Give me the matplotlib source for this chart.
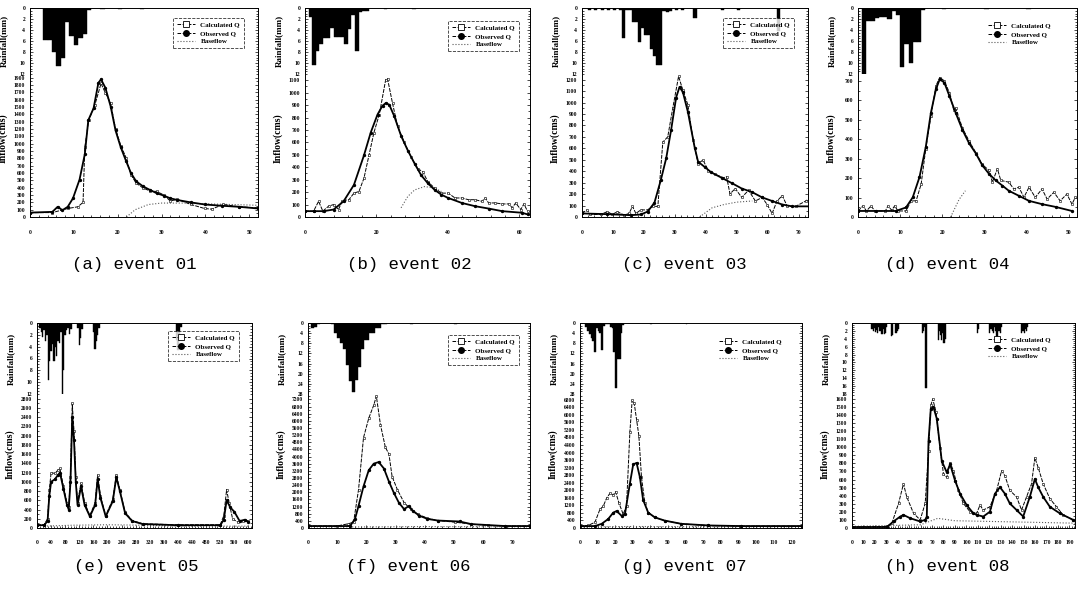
import matplotlib.pyplot as plt
from matplotlib.ticker import MultipleLocator, AutoMinorLocator
from matplotlib.lines import Line2D

# ---- event 01 ----
ev1_rain_t = [3, 4, 5, 6, 7, 8, 9, 10, 11, 12, 13, 16, 20, 25]
ev1_rain = [5.9, 5.9, 8.0, 10.6, 9.0, 2.6, 5.0, 6.8, 5.5, 4.7, 0.3, 0.2, 0.2, 0.2]
ev1_calc_t = [0, 5.1, 8.6, 10.9, 12.1, 12.5, 13.4, 14.8, 16.2, 17.2, 18.4, 19.5, 20.7, 21.9, 23.0,
              24.2, 25.8, 27.3, 28.9, 30.5, 32.0, 33.6, 36.7, 39.8, 41.4, 44.1, 47.7, 52]
ev1_calc = [60, 60, 116, 139, 199, 950, 1321, 1529, 1821, 1691, 1552, 1205, 973, 811, 579,
            463, 394, 357, 348, 301, 218, 241, 171, 116, 107, 171, 139, 125]
ev1_obs_t = [0, 5.1, 6.3, 7.4, 8.6, 9.8, 11.3, 12.5, 13.3, 14.5, 15.6, 16.2, 17.2, 18.4, 19.5, 20.7,
             21.9, 23.0, 24.2, 25.8, 27.3, 28.9, 30.5, 32.0, 33.6, 36.7, 39.8, 43.8, 47.7, 52]
ev1_obs = [60, 70, 139, 93, 139, 255, 510, 857, 1321, 1483, 1830, 1877, 1761, 1506, 1182, 950,
           765, 602, 487, 417, 371, 324, 292, 255, 232, 199, 171, 153, 139, 116]
ev1_base_t = [22, 24, 27, 30, 35, 40, 52]
ev1_base = [0, 100, 170, 190, 190, 180, 160]

# ---- event 02 ----
ev2_rain_t = [1, 2, 3, 4, 5, 6, 7, 8, 9, 10, 11, 12, 13, 14, 15, 16, 17, 22, 30]
ev2_rain = [1.6, 10.4, 7.8, 6.5, 5.5, 5.5, 3.6, 5.2, 5.2, 5.2, 6.5, 3.9, 1.3, 7.8, 0.8, 0.5, 0.5, 0.2, 0.2]
ev2_calc_t = [0, 2.4, 3.8, 5.0, 6.6, 8.0, 9.4, 10.4, 12.3, 13.7, 15.1, 16.5, 17.9, 19.3, 20.8, 22.6,
              23.1, 24.5, 25.9, 27.8, 29.7, 31.6, 33.0, 34.4, 36.3, 38.2, 40.1, 42.0, 43.9, 45.8,
              47.6, 49.5, 50.5, 51.4, 53.3, 55.2, 57.1, 58.0, 59.0, 60.4, 61.3, 62.3]
ev2_calc = [47, 47, 126, 47, 87, 100, 60, 132, 139, 192, 205, 311, 495, 679, 824, 1105,
            1113, 916, 732, 600, 482, 389, 363, 284, 232, 192, 192, 153, 153, 139,
            139, 126, 153, 113, 113, 105, 105, 74, 113, 60, 105, 47]
ev2_obs_t = [0, 2.4, 5.2, 8.0, 10.8, 13.7, 16.5, 18.4, 20.3, 21.7, 22.6, 23.6, 25.0, 26.9, 28.8,
             30.7, 32.5, 34.4, 36.3, 38.2, 40.1, 43.9, 47.6, 51.4, 55.2, 60.8, 62.3]
ev2_obs = [47, 47, 47, 60, 126, 258, 495, 679, 824, 895, 916, 903, 810, 653, 534,
           429, 337, 271, 218, 179, 153, 113, 87, 68, 47, 34, 21]
ev2_base_t = [26.9, 28.8, 30.7, 33.5, 36.3, 38.2]
ev2_base = [74, 166, 218, 245, 232, 205]

# ---- event 03 ----
ev3_rain_t = [2, 4, 6, 8, 10, 12, 13, 14, 15, 16, 17, 18, 19, 20, 21, 22, 23, 24, 25,
              26, 27, 28, 30, 32, 36, 45, 50, 63]
ev3_rain = [0.3, 0.3, 0.3, 0.4, 0.4, 0.4, 5.5, 0.3, 0.3, 2.6, 2.6, 6.2, 3.6, 4.9, 4.9, 7.5, 8.8, 10.4, 10.4,
            0.5, 0.8, 0.5, 0.3, 0.3, 1.9, 0.3, 0.3, 4.2]
ev3_calc_t = [0, 1.6, 2.7, 6.0, 8.2, 9.8, 11.4, 13.6, 15.2, 16.3, 17.4, 19.0, 21.2, 22.8, 24.5, 26.1,
              27.7, 29.3, 31.2, 32.6, 34.2, 35.9, 37.5, 39.1, 40.8, 42.9, 45.7, 46.7, 47.8, 49.5,
              51.6, 53.8, 56.0, 58.2, 59.8, 61.4, 63.0, 64.7, 66.3, 69.0, 72.3, 73.9]
ev3_calc = [31, 62, 22, 22, 47, 22, 47, 16, 31, 93, 31, 62, 62, 93, 93, 654,
            701, 950, 1230, 1106, 981, 670, 467, 498, 405, 374, 343, 352, 202, 249,
            171, 234, 140, 171, 109, 31, 140, 187, 93, 93, 140, 171]
ev3_obs_t = [0, 8.0, 15.8, 19.0, 21.2, 23.4, 25.5, 27.2, 28.8, 30.4, 31.5, 32.6, 34.2, 36.4, 37.5,
             39.7, 41.8, 45.1, 48.4, 51.6, 54.9, 58.2, 61.4, 64.7, 67.9, 73.4]
ev3_obs = [31, 25, 16, 22, 47, 125, 327, 514, 763, 1044, 1137, 1090, 919, 607, 483,
           436, 389, 343, 296, 249, 218, 171, 140, 109, 93, 93]
ev3_base_t = [38, 42, 46, 50, 55]
ev3_base = [0, 80, 110, 130, 140]

# ---- event 04 ----
ev4_rain_t = [1, 2, 3, 4, 5, 6, 7, 8, 9, 10, 11, 12, 13, 14, 15, 20, 30, 40]
ev4_rain = [12.0, 2.3, 2.3, 1.8, 1.6, 1.6, 2.0, 0.5, 1.2, 10.7, 6.5, 10.0, 6.1, 6.1, 0.3, 0.1, 0.1, 0.1]
ev4_calc_t = [0, 1.2, 2.0, 3.1, 4.0, 6.5, 7.1, 8.0, 8.7, 9.5, 11.4, 12.6, 13.8, 15.0, 16.1, 17.3,
              18.5, 19.4, 20.5, 21.7, 22.7, 23.2, 24.8, 26.4, 28.0, 29.5, 31.1, 31.9, 33.1, 33.9,
              35.8, 37.0, 38.2, 39.4, 40.6, 42.1, 43.7, 44.9, 46.5, 48.0, 49.6, 50.8, 51.6]
ev4_calc = [31, 57, 31, 57, 31, 31, 57, 35, 57, 31, 31, 83, 83, 170, 352, 517,
            674, 717, 700, 639, 552, 560, 457, 390, 330, 270, 240, 179, 248, 188,
            179, 144, 153, 101, 153, 101, 144, 92, 127, 83, 118, 66, 101]
ev4_obs_t = [0, 4.3, 9.0, 11.4, 13.0, 14.6, 16.1, 17.3, 18.5, 19.4, 20.5, 21.7, 23.2, 24.8, 26.4,
             28.0, 29.5, 31.1, 32.7, 34.3, 35.8, 38.2, 40.6, 43.7, 46.9, 50.8]
ev4_obs = [31, 31, 31, 49, 101, 205, 361, 535, 656, 708, 691, 622, 535, 448, 378,
           326, 266, 222, 188, 161, 135, 109, 83, 66, 52, 31]
ev4_base_t = [22, 24, 25.5]
ev4_base = [0, 90, 135]

# ---- event 05 ----
ev5_rain_t = [6, 10, 14, 18, 22, 26, 30, 34, 38, 42, 46, 50, 54, 58, 62, 66, 70, 74, 78, 82, 86, 90, 94,
              114, 118, 122, 126, 158, 162, 166, 170, 174, 394, 398, 402, 406]
ev5_rain = [0.8, 1.5, 2.4, 1.2, 3.0, 2.0, 9.7, 6.5, 4.7, 3.5, 6.4, 4.0, 5.5, 3.0, 3.4, 1.5, 12.0, 8.0,
            2.0, 1.2, 0.8, 1.8, 1.0, 0.8, 3.8, 2.5, 1.0, 1.5, 4.4, 3.0, 2.1, 0.8, 2.8, 4.5, 2.0, 0.6]
ev5_calc_t = [0, 20, 30, 35, 40, 50, 60, 65, 75, 85, 90, 95, 100, 105, 110, 115, 125, 135, 150, 165,
              172, 180, 195, 215, 225, 235, 250, 270, 300, 400, 520, 530, 538, 545, 555, 570, 585, 600]
ev5_calc = [70, 70, 200, 830, 1197, 1183, 1254, 1289, 901, 549, 444, 1113, 2697, 2099, 1113, 549, 972,
            549, 268, 549, 1148, 690, 268, 620, 1148, 831, 338, 162, 92, 70, 70, 268, 831, 549, 197,
            127, 162, 141]
ev5_obs_t = [0, 20, 30, 35, 40, 50, 60, 65, 75, 85, 90, 95, 100, 105, 110, 115, 125, 135, 150, 165,
             172, 180, 195, 215, 225, 235, 250, 270, 300, 400, 520, 530, 538, 548, 560, 575, 590, 600]
ev5_obs = [60, 60, 150, 700, 1000, 1050, 1150, 1200, 850, 500, 400, 1000, 2400, 1900, 1000, 500, 900,
           500, 250, 500, 1050, 650, 250, 580, 1100, 800, 320, 150, 85, 60, 60, 180, 600, 450, 350,
           150, 180, 130]
ev5_base_t = [20, 100, 200, 300, 400, 600]
ev5_base = [40, 60, 70, 60, 40, 40]

# ---- event 06 ----
ev6_rain_t = [1, 2, 3, 8, 9, 10, 11, 12, 13, 14, 15, 16, 17, 18, 19, 20, 21, 22, 23, 24, 25, 26, 35, 50]
ev6_rain = [1.8, 1.5, 0.5, 0.5, 4.0, 6.0, 8.0, 10.3, 16.7, 23.0, 27.3, 22.3, 17.4, 10.3, 6.8, 6.8,
            4.0, 4.0, 1.8, 1.8, 0.5, 0.3, 0.3, 0.3]
ev6_calc_t = [0, 9.8, 13.8, 15.6, 17.3, 19.0, 20.8, 22.5, 23.4, 24.8, 26.5, 27.7, 28.8, 30.6, 32.9,
              35.2, 37.5, 40.9, 44.4, 50.2, 55.9, 61.7, 67.5, 76]
ev6_calc = [109, 109, 236, 327, 2145, 5055, 6145, 6873, 7382, 5782, 4509, 4145, 2873, 2145, 1418,
            1055, 782, 545, 418, 327, 218, 145, 109, 109]
ev6_obs_t = [0, 14.4, 16.1, 17.3, 19.0, 20.8, 22.5, 24.2, 26.0, 27.7, 29.4, 31.1, 32.9, 34.6, 35.8,
             38.1, 40.9, 44.4, 51.9, 55.9, 67.5, 76]
ev6_obs = [109, 109, 509, 1236, 2327, 3236, 3600, 3691, 3327, 2600, 1964, 1418, 1055, 1236, 964,
           691, 509, 418, 364, 218, 109, 109]
ev6_base_t = [0, 20, 40, 76]
ev6_base = [60, 60, 80, 60]

# ---- event 07 ----
ev7_rain_t = [3, 4, 5, 6, 7, 8, 9, 10, 11, 12, 13, 14, 15, 16, 17, 18, 19, 20, 21, 22, 23, 24, 40, 60]
ev7_rain = [1.5, 3.0, 4.5, 6.0, 7.0, 11.3, 2.0, 3.3, 4.0, 10.6, 1.0, 0.3, 0.3, 0.3, 1.5, 2.0, 11.3,
            25.8, 14.2, 14.2, 4.0, 0.8, 0.2, 0.2]
ev7_calc_t = [0, 4.7, 8.5, 11.3, 13.2, 15.1, 17.0, 18.9, 20.2, 22.1, 24.5, 26.4, 28.3, 29.6, 30.8,
              32.1, 33.4, 34.9, 36.8, 38.7, 42.5, 48.1, 57.5, 72.6, 91.5, 126]
ev7_calc = [102, 136, 306, 986, 1156, 1582, 1837, 1752, 1922, 1327, 731, 1156, 5068, 6769, 6599,
            5748, 4898, 2687, 1327, 816, 561, 391, 221, 136, 102, 102]
ev7_obs_t = [0, 8.5, 12.3, 16.0, 18.9, 20.8, 23.6, 25.5, 28.3, 30.2, 32.1, 34.0, 35.8, 38.7, 42.5,
             48.1, 57.5, 72.6, 91.5, 126]
ev7_obs = [102, 102, 221, 476, 816, 901, 646, 731, 2347, 3367, 3452, 2687, 1497, 816, 561,
           391, 221, 136, 102, 102]
ev7_base_t = [0, 30, 60, 126]
ev7_base = [60, 80, 70, 60]

# ---- event 08 ----
ev8_rain_t = [17, 18, 19, 20, 21, 22, 23, 24, 25, 26, 27, 28, 29, 30, 34, 35, 38, 39, 40, 61, 62, 63,
              64, 65, 75, 76, 77, 78, 79, 80, 81, 109, 110, 120, 121, 122, 123, 124, 125, 126, 127,
              128, 129, 130, 148, 149, 150, 151, 152, 153]
ev8_rain = [1.5, 2.0, 1.2, 2.2, 1.8, 2.5, 1.0, 2.0, 2.9, 2.9, 1.5, 2.9, 2.5, 1.0, 3.4, 3.0, 2.5, 2.0,
            1.5, 2.5, 2.0, 1.0, 16.6, 16.6, 4.2, 2.0, 3.0, 4.2, 2.5, 5.0, 4.0, 2.5, 1.5, 2.5, 1.5,
            2.0, 2.5, 1.0, 2.0, 3.7, 3.7, 2.0, 2.5, 1.0, 2.5, 2.0, 2.5, 1.5, 2.0, 1.0]
ev8_calc_t = [0, 30.5, 34.9, 40.7, 45.0, 47.9, 53.8, 59.6, 64.0, 66.9, 68.9, 70.6, 73.5, 77.0, 80.0,
              82.9, 85.8, 88.7, 93.0, 97.4, 103.2, 109.0, 111.9, 114.8, 120.6, 126.5, 130.8, 133.7,
              138.0, 143.9, 148.3, 152.6, 157.0, 159.9, 162.8, 167.2, 173.0, 178.8, 184.6, 193.3]
ev8_calc = [12, 20, 61, 304, 547, 385, 182, 101, 304, 951, 1518, 1599, 1437, 992, 668,
            627, 810, 709, 466, 304, 202, 182, 283, 223, 263, 466, 709, 648,
            466, 385, 223, 385, 547, 870, 749, 547, 364, 263, 162, 101]
ev8_obs_t = [0, 30.5, 36.3, 42.2, 45.0, 50.9, 59.6, 64.0, 65.4, 66.9, 68.9, 71.2, 74.1, 78.5, 82.9,
             85.8, 90.1, 94.5, 100.3, 106.1, 109.0, 114.8, 120.6, 125.0, 129.4, 133.7, 138.0, 143.9,
             149.7, 155.5, 159.9, 162.8, 167.2, 173.0, 181.7, 193.3]
ev8_obs = [12, 12, 81, 142, 162, 121, 81, 101, 142, 1073, 1478, 1498, 1356, 830, 688,
           789, 587, 425, 283, 182, 162, 142, 202, 425, 506, 425, 304, 223,
           142, 385, 607, 506, 385, 263, 182, 101]
ev8_base_t = [0, 60, 75, 90, 195]
ev8_base = [20, 40, 120, 90, 60]

captions = ['(a) event 01', '(b) event 02', '(c) event 03', '(d) event 04',
            '(e) event 05', '(f) event 06', '(g) event 07', '(h) event 08']

plt.rcParams['font.family'] = ['Liberation Serif', 'DejaVu Serif']
plt.rcParams['font.weight'] = 'bold'

W, H = 1085, 592
fig = plt.figure(figsize=(W / 100, H / 100), dpi=100)


def px_rect(left, right, top, bottom):
    return [left / W, 1 - bottom / H, (right - left) / W, (bottom - top) / H]


def style_axis(ax):
    ax.tick_params(which='both', direction='in', right=True, labelsize=4, width=0.5)
    ax.tick_params(which='major', length=2.5)
    ax.tick_params(which='minor', length=1.2)
    for s in ax.spines.values():
        s.set_linewidth(0.7)


def draw_event(frame, split, rain, flows, rain_max, rain_step, q_max, q_step,
               x_max, x_step, leg_pos, leg_box, caption, cap_pos):
    left, right, top, bottom = frame
    rain_t, rain_v = rain
    (calc_t, calc_q), (obs_t, obs_q), (base_t, base_q) = flows

    ax_r = fig.add_axes(px_rect(left, right, top, split))
    ax_q = fig.add_axes(px_rect(left, right, split, bottom), sharex=ax_r)

    # rainfall hyetograph, hanging from the top
    ax_r.bar(rain_t, rain_v, width=(1.0 if x_max < 300 else 4.0), align='edge',
             color='black', edgecolor='black', linewidth=0.3)
    ax_r.set_ylim(rain_max, 0)
    ax_r.yaxis.set_major_locator(MultipleLocator(rain_step))
    ax_r.yaxis.set_minor_locator(AutoMinorLocator(4))
    ax_r.spines['bottom'].set_visible(False)
    ax_r.tick_params(axis='x', which='both', bottom=False, labelbottom=False)
    style_axis(ax_r)
    ax_r.set_ylabel('Rainfall(mm)', fontsize=6.5, fontweight='bold')
    ax_r.yaxis.set_label_coords(-22 / (right - left), 0.5)

    # hydrographs
    ax_q.plot(base_t, base_q, ls=':', color='0.35', lw=0.8)
    ax_q.plot(calc_t, calc_q, ls=(0, (4, 1.2)), color='black', lw=0.7,
              marker='s', ms=1.8, mfc='white', mew=0.4)
    ax_q.plot(obs_t, obs_q, ls='-', color='black', lw=1.3,
              marker='o', ms=1.4)
    ax_q.set_ylim(0, q_max)
    ax_q.set_xlim(0, x_max)
    ax_q.yaxis.set_major_locator(MultipleLocator(q_step))
    ax_q.yaxis.set_minor_locator(AutoMinorLocator(2))
    ax_q.xaxis.set_major_locator(MultipleLocator(x_step))
    ax_q.xaxis.set_minor_locator(AutoMinorLocator(5))
    ax_q.spines['top'].set_visible(False)
    style_axis(ax_q)
    ax_q.tick_params(axis='x', which='major', pad=9)
    ax_q.set_ylabel('Inflow(cms)', fontsize=7, fontweight='bold')
    ax_q.yaxis.set_label_coords(-22 / (right - left), 0.55)

    handles = [
        Line2D([], [], ls='--', color='black', lw=0.7, marker='s', ms=4, mfc='white', mew=0.6),
        Line2D([], [], ls='--', color='black', lw=0.7, marker='o', ms=4),
        Line2D([], [], ls=':', color='0.35', lw=0.8),
    ]
    leg = fig.legend(handles, ['Calculated Q', 'Observed Q', 'Baseflow'],
                     loc='upper right', bbox_to_anchor=(leg_pos[0] / W, 1 - leg_pos[1] / H),
                     fontsize=5, frameon=leg_box, fancybox=False, handlelength=2.6,
                     borderpad=0.5, labelspacing=0.35, handletextpad=0.8)
    if leg_box:
        frm = leg.get_frame()
        frm.set_edgecolor('black')
        frm.set_linestyle('--')
        frm.set_linewidth(0.6)

    fig.text(cap_pos[0] / W, 1 - cap_pos[1] / H, caption, ha='center', va='center',
             fontsize=12.5, family='Liberation Mono', fontweight='normal')


top_row = (8, 74, 217)
bot_row = (323, 394, 528)

panels = [
    dict(frame=(30, 258, 8, 217), split=74, rain=(ev1_rain_t, ev1_rain),
         flows=((ev1_calc_t, ev1_calc), (ev1_obs_t, ev1_obs), (ev1_base_t, ev1_base)),
         rain_max=12, rain_step=2, q_max=1950, q_step=100, x_max=52, x_step=10,
         leg_pos=(247, 15), leg_box=True, cap_pos=(134, 265)),
    dict(frame=(305, 530, 8, 217), split=74, rain=(ev2_rain_t, ev2_rain),
         flows=((ev2_calc_t, ev2_calc), (ev2_obs_t, ev2_obs), (ev2_base_t, ev2_base)),
         rain_max=12, rain_step=2, q_max=1150, q_step=100, x_max=63, x_step=20,
         leg_pos=(522, 18), leg_box=True, cap_pos=(409, 265)),
    dict(frame=(582, 808, 8, 217), split=74, rain=(ev3_rain_t, ev3_rain),
         flows=((ev3_calc_t, ev3_calc), (ev3_obs_t, ev3_obs), (ev3_base_t, ev3_base)),
         rain_max=12, rain_step=2, q_max=1250, q_step=100, x_max=73, x_step=10,
         leg_pos=(797, 15), leg_box=True, cap_pos=(684, 265)),
    dict(frame=(858, 1077, 8, 217), split=74, rain=(ev4_rain_t, ev4_rain),
         flows=((ev4_calc_t, ev4_calc), (ev4_obs_t, ev4_obs), (ev4_base_t, ev4_base)),
         rain_max=12, rain_step=2, q_max=735, q_step=100, x_max=52, x_step=10,
         leg_pos=(1058, 16), leg_box=False, cap_pos=(947, 265)),
    dict(frame=(37, 252, 323, 528), split=394, rain=(ev5_rain_t, ev5_rain),
         flows=((ev5_calc_t, ev5_calc), (ev5_obs_t, ev5_obs), (ev5_base_t, ev5_base)),
         rain_max=12, rain_step=2, q_max=2900, q_step=200, x_max=610, x_step=40,
         leg_pos=(242, 328), leg_box=True, cap_pos=(136, 566)),
    dict(frame=(308, 530, 323, 528), split=394, rain=(ev6_rain_t, ev6_rain),
         flows=((ev6_calc_t, ev6_calc), (ev6_obs_t, ev6_obs), (ev6_base_t, ev6_base)),
         rain_max=28, rain_step=4, q_max=7500, q_step=400, x_max=76, x_step=10,
         leg_pos=(522, 332), leg_box=True, cap_pos=(408, 566)),
    dict(frame=(580, 802, 323, 528), split=394, rain=(ev7_rain_t, ev7_rain),
         flows=((ev7_calc_t, ev7_calc), (ev7_obs_t, ev7_obs), (ev7_base_t, ev7_base)),
         rain_max=28, rain_step=4, q_max=7100, q_step=400, x_max=126, x_step=10,
         leg_pos=(789, 332), leg_box=False, cap_pos=(684, 566)),
    dict(frame=(852, 1075, 323, 528), split=394, rain=(ev8_rain_t, ev8_rain),
         flows=((ev8_calc_t, ev8_calc), (ev8_obs_t, ev8_obs), (ev8_base_t, ev8_base)),
         rain_max=18, rain_step=2, q_max=1660, q_step=100, x_max=195, x_step=10,
         leg_pos=(1058, 330), leg_box=False, cap_pos=(947, 566)),
]

for p, cap in zip(panels, captions):
    draw_event(caption=cap, **p)

fig.savefig('out.png', dpi=100, facecolor='white')
